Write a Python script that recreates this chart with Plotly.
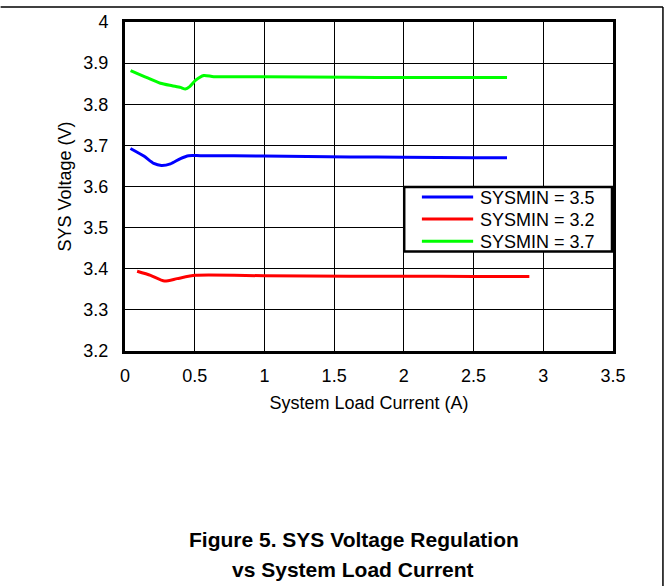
import plotly.graph_objects as go

# Data
x_37 = [0.04, 0.135, 0.254, 0.338, 0.398, 0.433, 0.464, 0.505, 0.565, 0.636, 1.0, 1.615, 2.0, 2.5, 2.74]
v_37 = [3.882, 3.868, 3.851, 3.845, 3.841, 3.837, 3.843, 3.858, 3.870, 3.867, 3.867, 3.8655, 3.865, 3.865, 3.865]

x_35 = [0.039, 0.135, 0.206, 0.261, 0.326, 0.398, 0.457, 0.541, 1.0, 1.615, 2.0, 2.5, 2.74]
v_35 = [3.6925, 3.674, 3.656, 3.651, 3.655, 3.668, 3.675, 3.675, 3.674, 3.672, 3.671, 3.670, 3.670]

x_32 = [0.087, 0.183, 0.283, 0.374, 0.505, 1.0, 1.615, 2.0, 2.5, 2.90]
v_32 = [3.394, 3.384, 3.370, 3.376, 3.384, 3.383, 3.382, 3.382, 3.381, 3.381]

series_names = ["SYSMIN = 3.5", "SYSMIN = 3.2", "SYSMIN = 3.7"]
series_colors = ["#0000FF", "#FF0000", "#00FF00"]

x_ticks = [0, 0.5, 1, 1.5, 2, 2.5, 3, 3.5]
y_ticks = [3.2, 3.3, 3.4, 3.5, 3.6, 3.7, 3.8, 3.9, 4.0]
y_tick_labels = ["3.2", "3.3", "3.4", "3.5", "3.6", "3.7", "3.8", "3.9", "4"]

FONT = "Liberation Sans, Arial, Helvetica, sans-serif"

# plot-area pixel geometry (for placing page decorations and the legend box)
L, R, T, B = 124.5, 613.0, 20.0, 351.0
W, H = R - L, B - T


def px(x):
    return (x - L) / W


def py(y):
    return (B - y) / H


fig = go.Figure()
for xs, vs, name, color in zip([x_35, x_32, x_37], [v_35, v_32, v_37], series_names, series_colors):
    fig.add_trace(go.Scatter(x=xs, y=vs, mode="lines", name=name, showlegend=False,
                             line=dict(color=color, width=3, shape="spline", smoothing=0.6)))

shapes = [
    # page frame lines
    dict(type="line", xref="paper", yref="paper", x0=px(0), x1=px(663), y0=py(5), y1=py(5),
         line=dict(color="black", width=1.5)),
    dict(type="line", xref="paper", yref="paper", x0=px(663), x1=px(663), y0=py(5), y1=py(590),
         line=dict(color="black", width=1.5)),
    # legend box
    dict(type="rect", xref="paper", yref="paper", x0=px(404), x1=px(612), y0=py(186), y1=py(251),
         fillcolor="white", line=dict(color="black", width=2.5), layer="above"),
]
annotations = []
legend_rows = [196, 218.3, 240.7]
for name, color, ry in zip(series_names, series_colors, legend_rows):
    shapes.append(dict(type="line", xref="paper", yref="paper", x0=px(421.7), x1=px(473),
                       y0=py(ry), y1=py(ry), line=dict(color=color, width=3), layer="above"))
    annotations.append(dict(text=name, xref="paper", yref="paper", x=px(477.5), y=py(ry + 1),
                            xanchor="left", yanchor="middle", showarrow=False,
                            font=dict(size=18, family=FONT, color="black")))

annotations += [
    dict(text="<b>Figure 5. SYS Voltage Regulation</b>", xref="paper", yref="paper",
         x=px(354), y=py(541), xanchor="center", yanchor="middle", showarrow=False,
         font=dict(size=21, family=FONT, color="black")),
    dict(text="<b>vs System Load Current</b>", xref="paper", yref="paper",
         x=px(353), y=py(571), xanchor="center", yanchor="middle", showarrow=False,
         font=dict(size=21, family=FONT, color="black")),
]

fig.update_layout(
    width=665, height=586,
    margin=dict(l=L, r=665 - R, t=T, b=586 - B),
    paper_bgcolor="white", plot_bgcolor="white",
    font=dict(family=FONT, size=18, color="black"),
    showlegend=False,
    xaxis=dict(range=[0, 3.5], tickvals=x_ticks, showgrid=True, gridcolor="black", gridwidth=1,
               showline=True, linecolor="black", linewidth=3, mirror=True, zeroline=False,
               ticks="", ticklabelstandoff=6,
               title=dict(text="System Load Current (A)", standoff=12, font=dict(size=18))),
    yaxis=dict(range=[3.2, 4.0], tickvals=y_ticks, ticktext=y_tick_labels, showgrid=True,
               gridcolor="black", gridwidth=1,
               showline=True, linecolor="black", linewidth=3, mirror=True, zeroline=False,
               ticks="", ticklabelstandoff=10,
               title=dict(text="SYS Voltage (V)", standoff=8, font=dict(size=18))),
    annotations=annotations,
    shapes=shapes,
)

fig.write_html("out.html", config={"displayModeBar": False},
               post_script="document.body.style.margin='0';document.body.style.overflow='hidden';")
